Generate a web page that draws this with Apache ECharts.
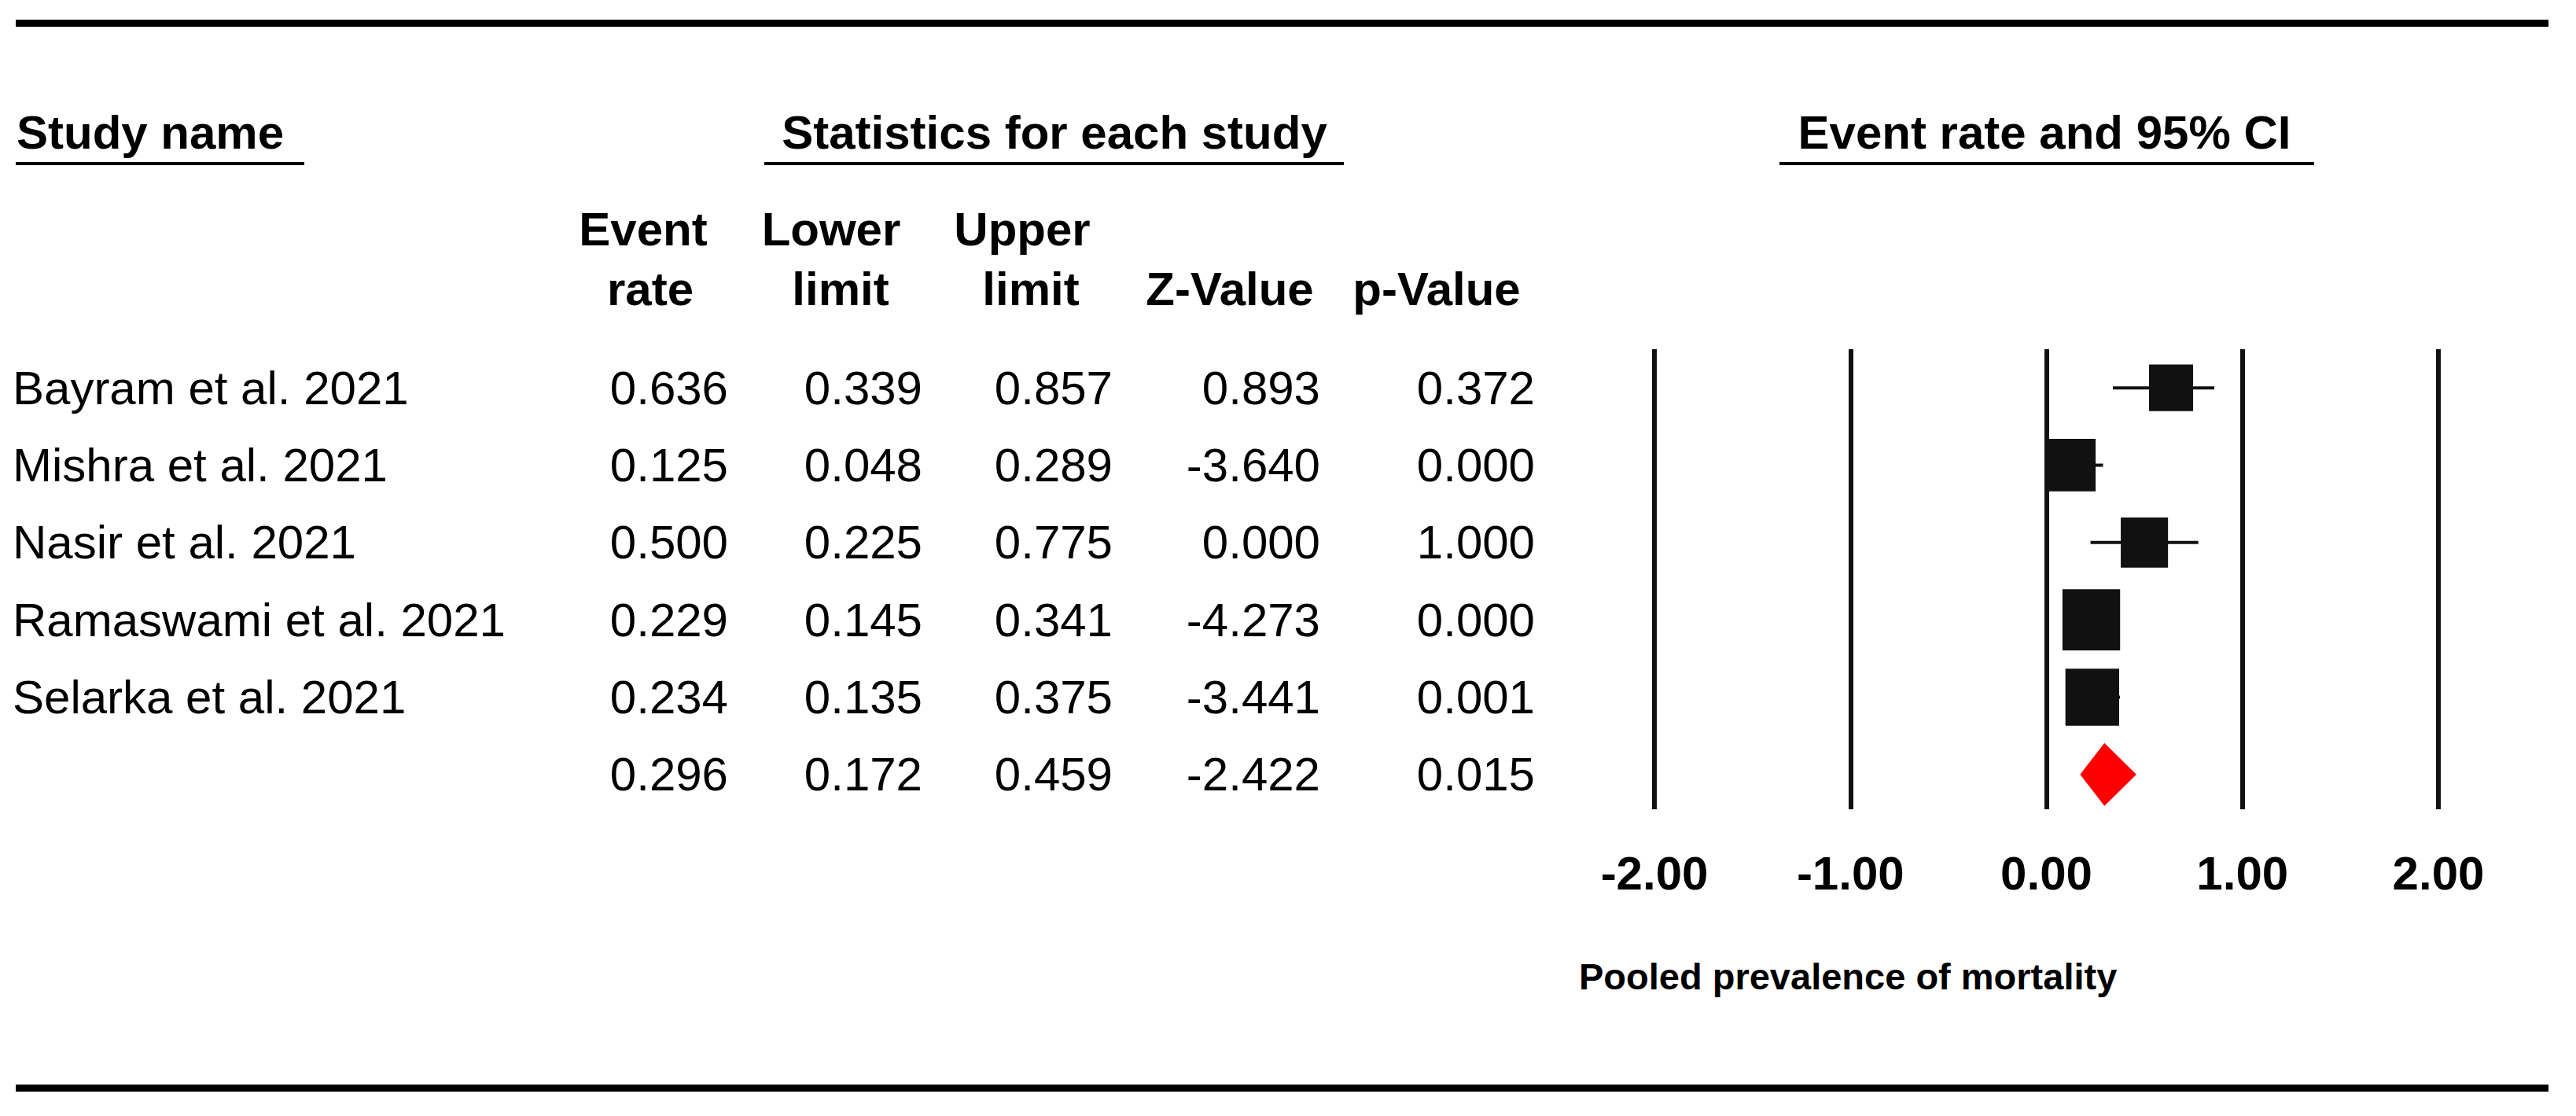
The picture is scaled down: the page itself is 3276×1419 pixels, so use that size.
<!DOCTYPE html>
<html>
<head>
<meta charset="utf-8">
<script src="https://cdn.jsdelivr.net/npm/echarts@6/dist/echarts.min.js"></script>
<style>
html,body{margin:0;padding:0;background:#fff;}
#chart{width:3276px;height:1419px;}
</style>
</head>
<body>
<div id="chart"></div>
<script>
// ---------------- DATA ----------------
const studies = ['Bayram et al. 2021', 'Mishra et al. 2021', 'Nasir et al. 2021', 'Ramaswami et al. 2021', 'Selarka et al. 2021'];
const eventRate = [0.636, 0.125, 0.500, 0.229, 0.234];
const lowerLimit = [0.339, 0.048, 0.225, 0.145, 0.135];
const upperLimit = [0.857, 0.289, 0.775, 0.341, 0.375];
const zValue = [0.893, -3.640, 0.000, -4.273, -3.441];
const pValue = [0.372, 0.000, 1.000, 0.000, 0.001];
const relWeight = [15.1, 19.1, 17.4, 25.9, 22.5];   // relative weights (box area)
const pooledRate = 0.296;
const pooledLower = 0.172;
const pooledUpper = 0.459;
const pooledZ = -2.422;
const pooledP = 0.015;
const xTicks = [-2, -1, 0, 1, 2];
const xTickLabels = ['-2.00', '-1.00', '0.00', '1.00', '2.00'];
const axisTitle = 'Pooled prevalence of mortality';
const headStudy = 'Study name';
const headStats = 'Statistics for each study';
const headPlot = 'Event rate and 95% CI';
const colHeadTop = ['Event', 'Lower', 'Upper', '', ''];
const colHeadBottom = ['rate', 'limit', 'limit', 'Z-Value', 'p-Value'];

// ---------------- BUILD ----------------
const FONT = '"Liberation Sans", Arial, sans-serif';
const nRows = studies.length + 1;
const tableRows = [];
for (let i = 0; i < studies.length; i++) {
  tableRows.push([0, i, studies[i], eventRate[i], lowerLimit[i], upperLimit[i], zValue[i], pValue[i]]);
}
tableRows.push([0, studies.length, '', pooledRate, pooledLower, pooledUpper, pooledZ, pooledP]);

const boxData = eventRate.map((v, i) => {
  const s = Math.sqrt(relWeight[i]) * 14.4;
  return { value: [v, i], symbolSize: [s, s * 1.06] };
});
const ciData = eventRate.map((v, i) => [lowerLimit[i], upperLimit[i], i]);
const diamondData = [[pooledLower, pooledRate, pooledUpper, studies.length]];

// column right edges (px) for numeric columns
const numColRight = [926, 1173, 1415, 1679, 1952];
const headTopX = [818, 1057, 1300, 0, 0];
const headBottomX = [827, 1069, 1311, 1564, 1827];

const chart = echarts.init(document.getElementById('chart'), null, { renderer: 'svg' });

const graphics = [];
// top & bottom rules
graphics.push({ type: 'line', shape: { x1: 20, y1: 29.5, x2: 3241, y2: 29.5 }, style: { stroke: '#000', lineWidth: 9 } });
graphics.push({ type: 'line', shape: { x1: 20, y1: 1383.5, x2: 3241, y2: 1383.5 }, style: { stroke: '#000', lineWidth: 9 } });
// group headers
graphics.push({ type: 'text', style: { text: headStudy, x: 21, y: 168, font: 'bold 60px ' + FONT, fill: '#000', align: 'left', verticalAlign: 'middle' } });
graphics.push({ type: 'line', shape: { x1: 20, y1: 208, x2: 387, y2: 208 }, style: { stroke: '#000', lineWidth: 4 } });
graphics.push({ type: 'text', style: { text: headStats, x: 1341, y: 168, font: 'bold 60px ' + FONT, fill: '#000', align: 'center', verticalAlign: 'middle' } });
graphics.push({ type: 'line', shape: { x1: 972, y1: 208, x2: 1709, y2: 208 }, style: { stroke: '#000', lineWidth: 4 } });
graphics.push({ type: 'text', style: { text: headPlot, x: 2600, y: 168, font: 'bold 60px ' + FONT, fill: '#000', align: 'center', verticalAlign: 'middle' } });
graphics.push({ type: 'line', shape: { x1: 2263, y1: 208, x2: 2943, y2: 208 }, style: { stroke: '#000', lineWidth: 4 } });
// column headers
for (let c = 0; c < colHeadBottom.length; c++) {
  if (colHeadTop[c]) {
    graphics.push({ type: 'text', style: { text: colHeadTop[c], x: headTopX[c], y: 291.5, font: 'bold 60px ' + FONT, fill: '#000', align: 'center', verticalAlign: 'middle' } });
  }
  graphics.push({ type: 'text', style: { text: colHeadBottom[c], x: headBottomX[c], y: 367.5, font: 'bold 60px ' + FONT, fill: '#000', align: 'center', verticalAlign: 'middle' } });
}
// axis title
graphics.push({ type: 'text', style: { text: axisTitle, x: 2008, y: 1241, font: 'bold 47px ' + FONT, fill: '#000', align: 'left', verticalAlign: 'middle' } });

const option = {
  backgroundColor: '#fff',
  animation: false,
  grid: { left: 2104, right: 175, top: 444, bottom: 390, containLabel: false },
  xAxis: {
    type: 'value', min: xTicks[0], max: xTicks[xTicks.length - 1], interval: 1,
    axisLine: { show: false }, axisTick: { show: false },
    splitLine: { show: true, lineStyle: { color: '#111', width: 6 } },
    axisLabel: {
      margin: 51, fontSize: 60, fontWeight: 'bold', fontFamily: FONT, color: '#000',
      formatter: v => xTickLabels[xTicks.indexOf(v)] ?? ''
    }
  },
  yAxis: { type: 'value', min: -0.5, max: nRows - 0.55, inverse: true, show: false },
  graphic: graphics,
  series: [
    {
      type: 'custom', name: 'table', clip: false, silent: true,
      encode: { x: 0, y: 1 },
      data: tableRows,
      renderItem: function (params, api) {
        const row = tableRows[params.dataIndex];
        const y = api.coord([0, row[1]])[1];
        const children = [];
        if (row[2]) {
          children.push({ type: 'text', style: { text: row[2], x: 16, y: y, font: '60px ' + FONT, fill: '#000', align: 'left', verticalAlign: 'middle' } });
        }
        for (let c = 0; c < 5; c++) {
          children.push({ type: 'text', style: { text: row[3 + c].toFixed(3), x: numColRight[c], y: y, font: '60px ' + FONT, fill: '#000', align: 'right', verticalAlign: 'middle' } });
        }
        return { type: 'group', children: children };
      }
    },
    {
      type: 'custom', name: 'ci', clip: false, silent: true, z: 3,
      encode: { x: [0, 1], y: 2 },
      data: ciData,
      renderItem: function (params, api) {
        const p1 = api.coord([api.value(0), api.value(2)]);
        const p2 = api.coord([api.value(1), api.value(2)]);
        return { type: 'line', shape: { x1: p1[0], y1: p1[1], x2: p2[0], y2: p2[1] }, style: { stroke: '#111', lineWidth: 4 } };
      }
    },
    {
      type: 'scatter', name: 'boxes', z: 4, symbol: 'rect',
      itemStyle: { color: '#111', opacity: 1 },
      data: boxData
    },
    {
      type: 'custom', name: 'pooled', clip: false, silent: true, z: 5,
      encode: { x: [0, 1, 2], y: 3 },
      data: diamondData,
      renderItem: function (params, api) {
        const row = api.value(3);
        const l = api.coord([api.value(0), row]);
        const m = api.coord([api.value(1), row]);
        const r = api.coord([api.value(2), row]);
        const h = 40;
        return { type: 'polygon', shape: { points: [[l[0], l[1]], [m[0], m[1] - h], [r[0], r[1]], [m[0], m[1] + h]] }, style: { fill: '#ff0000' } };
      }
    }
  ]
};
chart.setOption(option);
</script>
</body>
</html>
